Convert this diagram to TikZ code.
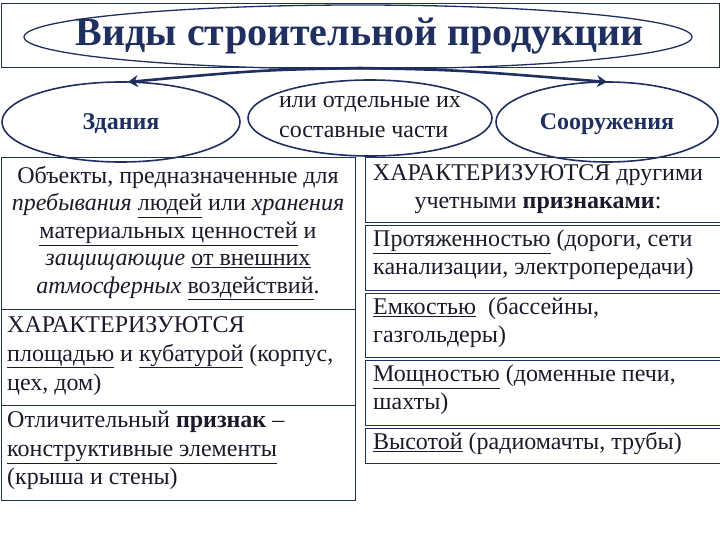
\documentclass[tikz,border=0pt]{standalone}
\usepackage{fontspec}
\setmainfont{Liberation Serif}
\usetikzlibrary{shapes.geometric,arrows.meta}
\definecolor{navy}{HTML}{1F2F5F}
\definecolor{txt}{HTML}{1A1A2A}
\tikzset{
  ell/.style={ellipse,draw=navy,line width=1.6pt,inner sep=0pt},
  boxx/.style={draw=navy,line width=0.8pt,anchor=north west},
  tx/.style={text=txt,font=\fontsize{24}{28}\selectfont,align=left,anchor=north west,inner sep=0pt},
  arr/.style={draw=navy,line width=2.6pt,-{Stealth[length=10pt,width=12pt]}}
}
\newcommand{\ul}[1]{\underline{#1}}
\begin{document}
\begin{tikzpicture}[x=1pt,y=-1pt]
\useasboundingbox (0,0) rectangle (720,540);
\draw[navy,line width=0.8pt] (1,3) rectangle (719,67);
\node[ell,line width=1.3pt,minimum width=668pt,minimum height=64pt] (title) at (358,37) {};
\node[text=navy,font=\fontsize{40}{44}\selectfont\bfseries] (tt) at (360,36) {Виды строительной продукции};
\coordinate (src) at (360,68);
\node[ell,minimum width=238pt,minimum height=80pt] (zd) at (121,122) {};
\node[text=navy,font=\fontsize{24}{26}\selectfont\bfseries] (zdt) at (121,124) {Здания};
\node[ell,minimum width=244pt,minimum height=76pt] (mid) at (370,118) {};
\node[text=txt,font=\fontsize{24}{30}\selectfont,align=left] (midt) at (370,117) {или отдельные их\\составные части};
\node[ell,minimum width=222pt,minimum height=80pt] (so) at (607,122) {};
\node[text=navy,font=\fontsize{24}{26}\selectfont\bfseries] (sot) at (607,124) {Сооружения};
\draw[arr] (src) .. controls (260,70) .. (128,82);
\draw[arr] (src) .. controls (460,70) .. (607,82);
% left boxes
\node[boxx,minimum width=354pt,minimum height=152pt] (l1) at (1,157) {};
\node[text=txt,font=\fontsize{24}{27.5}\selectfont,align=center,anchor=north,inner sep=0pt] (l1t) at (178,166)
 {Объекты, предназначенные для\\ \textit{пребывания} \ul{людей} или \textit{хранения}\\ \ul{материальных ценностей} и\\ \textit{защищающие} \ul{от внешних}\\ \textit{атмосферных} \ul{воздействий}.};
\node[boxx,minimum width=354pt,minimum height=96pt] (l2) at (1,309) {};
\node[tx,font=\fontsize{24}{29}\selectfont] (l2t) at (7,316) {ХАРАКТЕРИЗУЮТСЯ\\ \ul{площадью} и \ul{кубатурой} (корпус,\\ цех, дом)};
\node[boxx,minimum width=354pt,minimum height=95pt] (l3) at (1,405) {};
\node[tx,font=\fontsize{24}{28.5}\selectfont] (l3t) at (7,411) {Отличительный \textbf{признак} –\\ \ul{конструктивные элементы}\\ (крыша и стены)};
% right boxes
\node[boxx,minimum width=360pt,minimum height=65pt] (r1) at (365,157) {};
\node[text=txt,font=\fontsize{24}{28}\selectfont,align=center,anchor=north,inner sep=0pt] (r1t) at (538,164) {ХАРАКТЕРИЗУЮТСЯ другими\\ учетными \textbf{признаками}:};
\node[boxx,minimum width=360pt,minimum height=65pt] (r2) at (365,225) {};
\node[tx] (r2t) at (373,230) {\ul{Протяженностью} (дороги, сети\\ канализации, электропередачи)};
\node[boxx,minimum width=360pt,minimum height=64pt] (r3) at (365,293) {};
\node[tx] (r3t) at (373,297) {\ul{Емкостью}\ \ (бассейны,\\ газгольдеры)};
\node[boxx,minimum width=360pt,minimum height=65pt] (r4) at (365,360) {};
\node[tx] (r4t) at (373,365) {\ul{Мощностью} (доменные печи,\\ шахты)};
\node[boxx,minimum width=360pt,minimum height=35pt] (r5) at (365,428) {};
\node[tx] (r5t) at (373,432) {\ul{Высотой} (радиомачты, трубы)};
\end{tikzpicture}
\end{document}
